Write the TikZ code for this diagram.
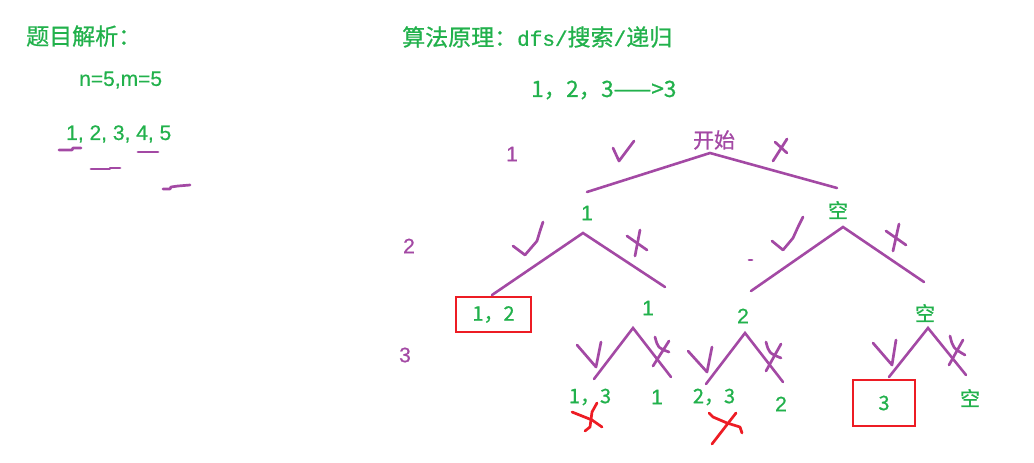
\documentclass[tikz,border=0pt]{standalone}
\usepackage{fontspec}
\setmainfont[FakeBold=0.6]{Liberation Sans}
\newfontfamily\cjk[FakeBold=0.8]{Noto Sans CJK SC}
\newfontfamily\latinmono[FakeBold=0.8]{Liberation Mono}
\definecolor{inkgreen}{HTML}{22B14C}
\definecolor{inkpurple}{HTML}{A349A4}
\definecolor{inkred}{HTML}{ED1C24}

\begin{document}
\begin{tikzpicture}[x=1pt, y=-1pt,
    gtxt/.style={text=inkgreen, inner sep=0pt, font=\fontsize{21}{24}\selectfont},
    ptxt/.style={text=inkpurple, inner sep=0pt, font=\fontsize{21}{24}\selectfont},
    cjk/.style={font=\cjk\fontsize{20}{24}\selectfont},
    branch/.style={inkpurple, line width=2.6pt, line cap=round},
    pen/.style={inkpurple, line width=2.7pt, line join=round, line cap=round},
    redpen/.style={pen, draw=inkred},
    hit/.style={draw=inkred, line width=2.8pt, inner sep=0pt, text=inkgreen, font=\cjk\fontsize{20}{24}\selectfont}
  ]
    \useasboundingbox (0,0) rectangle (1034,463);
    % left: problem
    \node[gtxt, font=\cjk\fontsize{23}{26}\selectfont, anchor=west] (title) at (26,36) {题目解析：};
    \node[gtxt, anchor=west] (nm) at (79,80) {n=5,m=5};
    \node[gtxt, anchor=west] (seq) at (66,134) {1, 2, 3, 4, 5};
    \draw[pen] (59,150) -- (72,150) -- (73,148) -- (81,148);
    \draw[pen] (138,152) -- (158,152);
    \draw[pen] (91,169) -- (110,169) -- (110,168) -- (120,168);
    \draw[pen] (163,189) -- (170,189) -- (171,187) -- (178,186) -- (190,185);

    % right: method
    \node[gtxt, anchor=west, font=\cjk\fontsize{23}{26}\selectfont] (method) at (402,37)
      {算法原理：{\latinmono\fontsize{21}{24}\selectfont dfs/}搜索{\latinmono\fontsize{21}{24}\selectfont /}递归};
    \node[gtxt, font=\cjk\fontsize{22.5}{26}\selectfont, anchor=west] (goal) at (531,90) {1，2，3——>3};

    % level numbers
    \node[ptxt] (lv1) at (512,154) {1};
    \node[ptxt] (lv2) at (409,246) {2};
    \node[ptxt] (lv3) at (405,355) {3};

    % tree nodes
    \node[ptxt, font=\cjk\fontsize{21}{24}\selectfont] (start) at (714,140) {开始};
    \node[gtxt] (a1) at (587,213) {1};
    \node[gtxt, cjk] (e1) at (838,210) {空};
    \node[hit, minimum width=75pt, minimum height=35pt] (n12) at (493.5,314.5) {1，2};
    \node[gtxt] (b1) at (648,308) {1};
    \node[gtxt] (b2) at (743,316) {2};
    \node[gtxt, cjk] (e2) at (925,313) {空};
    \node[gtxt, cjk] (n13) at (590,397) {1，3};
    \node[gtxt] (c1) at (657,397) {1};
    \node[gtxt, cjk] (n23) at (714,397) {2，3};
    \node[gtxt] (c2) at (781,404) {2};
    \node[hit, minimum width=62pt, minimum height=46pt] (n3) at (884,403) {3};
    \node[gtxt, cjk] (e3) at (970,398) {空};

    % branch points
    \coordinate (t0) at (710,153); \coordinate (t0-l) at (587,192); \coordinate (t0-r) at (837,188);
    \coordinate (t1) at (583,233); \coordinate (t1-l) at (492,295); \coordinate (t1-r) at (665,287);
    \coordinate (t2) at (843,227); \coordinate (t2-l) at (751,291); \coordinate (t2-r) at (924,282);
    \coordinate (t3) at (633,328); \coordinate (t3-l) at (594,379); \coordinate (t3-r) at (671,377);
    \coordinate (t4) at (745,333); \coordinate (t4-l) at (706,384); \coordinate (t4-r) at (783,382);
    \coordinate (t5) at (928,328); \coordinate (t5-l) at (889,377); \coordinate (t5-r) at (966,375);
    \foreach \t in {t0,t1,t2,t3,t4,t5}
      \draw[branch] (\t-l) -- (\t) -- (\t-r);

    % ticks (take)
    \draw[pen] (613,148) -- (619,161) -- (634,141);
    \draw[pen] (513,246) -- (525,255) -- (537,241) -- (540,231) -- (543,222);
    \draw[pen] (772,241) -- (783,250) -- (793,238) -- (798,227) -- (803,217);
    \draw[pen] (577,345) -- (596,367) -- (601,342);
    \draw[pen] (688,351) -- (707,372) -- (712,347);
    \draw[pen] (873,343) -- (892,365) -- (896,340);
    % crosses (skip)
    \draw[pen] (775,142) -- (787,153);
    \draw[pen] (787,139) -- (773,161);
    \draw[pen] (640,230) -- (635,256);
    \draw[pen] (627,236) -- (647,250);
    \draw[pen] (899,224) -- (893,251);
    \draw[pen] (886,231) -- (906,245);
    \draw[pen] (655,337) .. controls (658,348) .. (669,352);
    \draw[pen] (669,341) -- (653,366);
    \draw[pen] (766,342) .. controls (769,353) .. (781,358);
    \draw[pen] (781,344) -- (766,371);
    \draw[pen] (950,336) .. controls (953,348) .. (965,355);
    \draw[pen] (963,340) -- (949,365);
    \draw[pen] (749,260) -- (752,260);
    % red crosses
    \draw[redpen] (572,412) -- (592,420) -- (602,427);
    \draw[redpen] (597,403) -- (592,412) -- (590,427) -- (585,431);
    \draw[redpen] (709,413) -- (713,417) -- (727,423) -- (740,427) -- (742,433);
    \draw[redpen] (736,413) -- (712,444);
  \end{tikzpicture}
\end{document}
